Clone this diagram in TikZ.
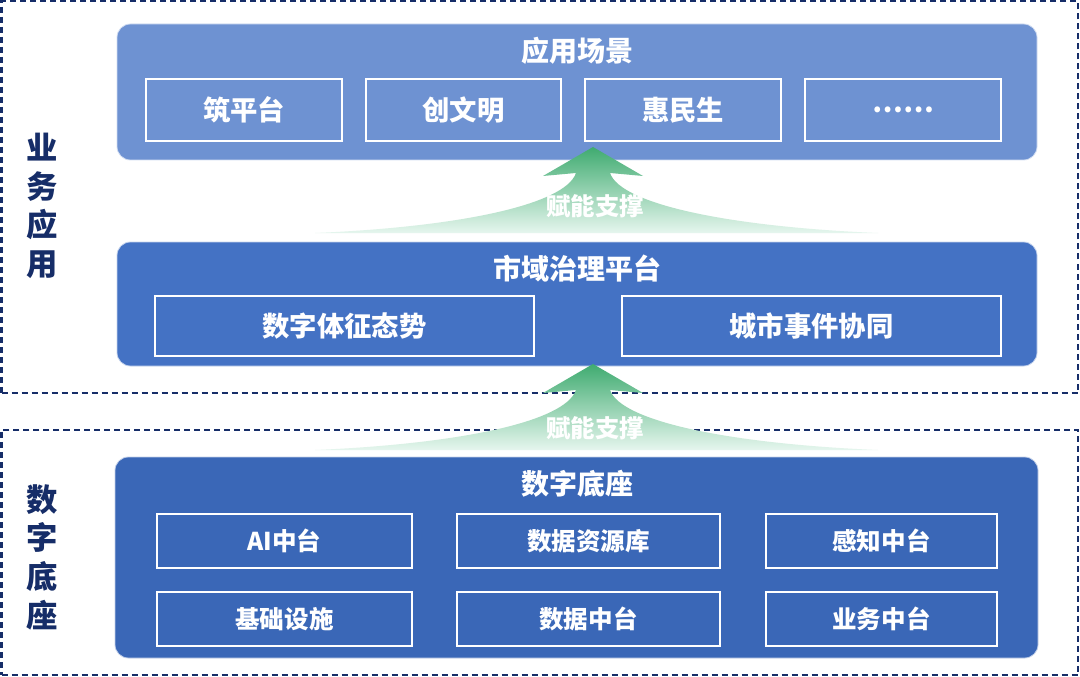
\documentclass[tikz,border=0pt]{standalone}
\usepackage{fontspec}
\setmainfont{Noto Sans CJK SC}
\usetikzlibrary{fit}
\definecolor{navy}{HTML}{162D68}
\definecolor{blueA}{HTML}{6E92D2}
\definecolor{blueB}{HTML}{4472C4}
\definecolor{blueC}{HTML}{3A67B7}
\definecolor{greenTop}{HTML}{3FAB70}
\definecolor{greenBot}{HTML}{E6F6EE}
\tikzset{
  zone/.style={draw=navy, line width=1.5pt, dash pattern=on 4.5pt off 3pt},
  layer/.style={rounded corners=10pt, inner sep=0pt, draw=white!70!#1, line width=0.6pt, fill=#1},
  item/.style={draw=white, line width=1.5pt, inner sep=0pt},
  itemtxt/.style={text=white, font=\bfseries\fontsize{20.5}{20.5}\selectfont},
  smalltxt/.style={text=white, font=\bfseries\fontsize{18.4}{18.4}\selectfont},
  title/.style={text=white, font=\bfseries\fontsize{21}{21}\selectfont},
  side/.style={text=navy, font=\bfseries\fontsize{23.5}{29}\selectfont, align=center},
  arrowtxt/.style={text=white, font=\bfseries\fontsize{18.3}{18.3}\selectfont},
}
\newcommand{\boxat}[8]{% name, box style, text style, x1,y1,x2,y2, text
  \path (#4,#5) coordinate (#1-a) (#6,#7) coordinate (#1-b);
  \node[#2, fit=(#1-a)(#1-b)] (#1) {};
  \node[#3] (#1-t) at (#1.center) {#8};}
\newcommand{\greenarrow}[2]{% tip x, tip y
  \shade[top color=greenTop, bottom color=greenBot, shift={(#1,#2)}]
    (0,0) -- (50,29) -- (17,26)
    .. controls (28,58) and (140,80) .. (285,86)
    -- (-278,86)
    .. controls (-135,80) and (-28,58) .. (-17,26)
    -- (-50,29) -- cycle;}
\begin{document}
\begin{tikzpicture}[x=0.75pt, y=-0.75pt]
\useasboundingbox (0,0) rectangle (1080,677);
\fill[white] (0,0) rectangle (1080,677);
% zones
\path (1.5,1.5) coordinate (zt-a) (1078,393) coordinate (zt-b);
\node[zone, inner sep=0pt, fit=(zt-a)(zt-b)] (zoneTop) {};
\path (1.5,430) coordinate (zb-a) (1078,675) coordinate (zb-b);
\node[zone, inner sep=0pt, fit=(zb-a)(zb-b)] (zoneBot) {};
\node[side] (sideTop) at (42,206) {业\\务\\应\\用};
\node[side] (sideBot) at (42,557) {数\\字\\底\\座};
% layer 1
\path (117,24) coordinate (L1-a) (1037,160) coordinate (L1-b);
\node[layer=blueA, fit=(L1-a)(L1-b)] (L1) {};
\node[title] (t1) at (577,51) {应用场景};
\boxat{a1}{item}{itemtxt}{146}{79}{342}{141}{筑平台}
\boxat{a2}{item}{itemtxt}{366}{79}{561}{141}{创文明}
\boxat{a3}{item}{itemtxt}{585}{79}{781}{141}{惠民生}
\boxat{a4}{item}{itemtxt}{805}{79}{1001}{141}{……}
% layer 2
\path (117,242) coordinate (L2-a) (1037,366) coordinate (L2-b);
\node[layer=blueB, fit=(L2-a)(L2-b)] (L2) {};
\node[title] (t2) at (577,269) {市域治理平台};
\boxat{b1}{item}{itemtxt}{155}{296}{534}{356}{数字体征态势}
\boxat{b2}{item}{itemtxt}{622}{296}{1001}{356}{城市事件协同}
% layer 3
\path (115,457) coordinate (L3-a) (1038,658) coordinate (L3-b);
\node[layer=blueC, fit=(L3-a)(L3-b)] (L3) {};
\node[title] (t3) at (577,484) {数字底座};
\boxat{c1}{item}{smalltxt}{157}{514}{412}{568}{AI中台}
\boxat{c2}{item}{smalltxt}{457}{514}{720}{568}{数据资源库}
\boxat{c3}{item}{smalltxt}{766}{514}{997}{568}{感知中台}
\boxat{c4}{item}{smalltxt}{157}{592}{412}{646}{基础设施}
\boxat{c5}{item}{smalltxt}{457}{592}{720}{646}{数据中台}
\boxat{c6}{item}{smalltxt}{766}{592}{997}{646}{业务中台}
% arrows
\greenarrow{593}{147}
\node[arrowtxt] (e1) at (595,206) {赋能支撑};
\greenarrow{593}{364}
\node[arrowtxt] (e2) at (595,428) {赋能支撑};
\end{tikzpicture}
\end{document}
